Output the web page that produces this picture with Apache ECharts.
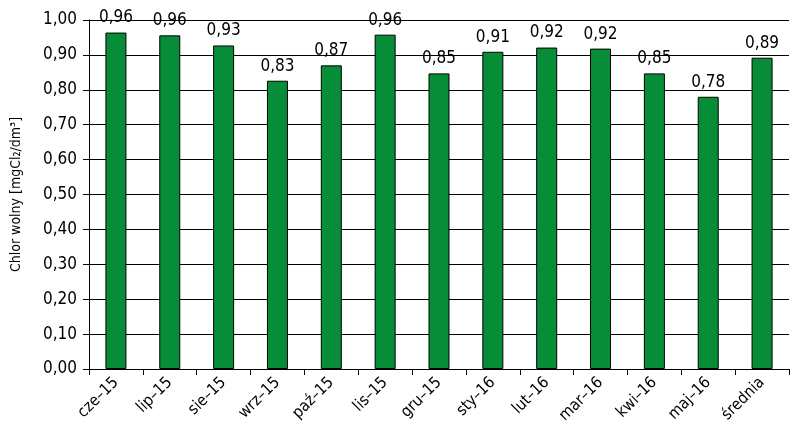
<!DOCTYPE html>
<html>
<head>
<meta charset="utf-8">
<script src="https://cdn.jsdelivr.net/npm/echarts@6/dist/echarts.min.js"></script>
<style>
  html, body { margin: 0; padding: 0; background: #fff; }
  #main { width: 800px; height: 431px; }
</style>
</head>
<body>
<div id="main"></div>
<script>
var categories = ['cze–15', 'lip–15', 'sie–15', 'wrz–15', 'paź–15', 'lis–15', 'gru–15',
  'sty–16', 'lut–16', 'mar–16', 'kwi–16', 'maj–16', 'średnia']
var values = [0.964, 0.956, 0.927, 0.826, 0.870, 0.958, 0.847, 0.909, 0.921, 0.918, 0.847, 0.780, 0.892]
var yName = 'Chlor wolny [mgCl₂/dm³]'

var font = '"DejaVu Sans Condensed", "Liberation Sans Narrow", "Liberation Sans", sans-serif'

function comma(v) {
  return v.toFixed(2).replace('.', ',')
}

var myChart = echarts.init(document.getElementById('main'))

var option = {
  animation: false,
  textStyle: { fontFamily: font, color: '#000' },
  grid: {
    left: 89,
    right: 11,
    top: 20,
    bottom: 62
  },
  xAxis: {
    type: 'category',
    data: categories,
    axisLine: { lineStyle: { color: '#000', width: 1 } },
    axisTick: { show: true, length: 6, lineStyle: { color: '#000' } },
    axisLabel: {
      rotate: 45,
      fontSize: 16,
      color: '#000',
      fontFamily: font,
      margin: 11
    }
  },
  yAxis: {
    type: 'value',
    min: 0,
    max: 1,
    interval: 0.1,
    name: yName,
    nameLocation: 'middle',
    nameGap: 66,
    nameTextStyle: { fontSize: 14, color: '#000', fontFamily: font },
    axisLine: { show: true, lineStyle: { color: '#000', width: 1 } },
    axisTick: { show: true, length: 6, lineStyle: { color: '#000' } },
    axisLabel: {
      fontSize: 17,
      color: '#000',
      fontFamily: font,
      margin: 12,
      formatter: function (v) { return comma(v) }
    },
    splitLine: { show: true, lineStyle: { color: '#000', width: 1 } }
  },
  series: [
    {
      type: 'bar',
      data: values,
      barWidth: 21,
      itemStyle: { color: '#078d38', borderColor: '#000', borderWidth: 1 },
      label: {
        show: true,
        position: 'top',
        distance: 6,
        fontSize: 17,
        color: '#000',
        fontFamily: font,
        formatter: function (p) { return comma(p.value) }
      }
    }
  ]
}

myChart.setOption(option)
</script>
</body>
</html>
